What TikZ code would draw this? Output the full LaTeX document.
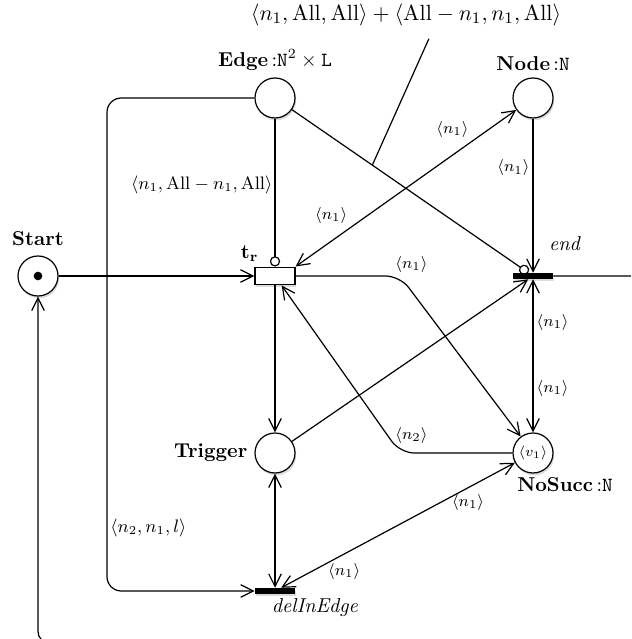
\documentclass[tikz,border=0pt]{standalone}
\usepackage{amsmath}
\usepackage{amssymb}
\usetikzlibrary{positioning,arrows.meta,petri,shadows,calc}
\tikzset{
  pnshadow/.style={drop shadow={shadow xshift=0.6pt, shadow yshift=-1.2pt, opacity=0.28}},
  pnplace/.style={circle, draw, semithick, fill=white, minimum size=0.7cm,
                  inner sep=0pt, pnshadow},
  pntrans/.style={rectangle, draw, semithick, fill=white, minimum width=0.7cm,
                  minimum height=0.31cm, inner sep=0pt, pnshadow},
  pnbar/.style={rectangle, fill=black, minimum width=0.7cm, minimum height=0.1cm,
                inner sep=0pt, pnshadow},
  pnarc/.style={-{Straight Barb[length=2.2mm,width=2.2mm]}, semithick},
  pnboth/.style={{Straight Barb[length=2.2mm,width=2.2mm]}-{Straight Barb[length=2.2mm,width=2.2mm]}, semithick},
  pninhib/.style={-{Circle[open,length=1.8mm,width=1.8mm]}, semithick},
  pnline/.style={semithick},
  pnlbl/.style={font=\footnotesize, inner sep=1.5pt},
  pnbig/.style={font=\small, inner sep=1pt},
}
\newcommand{\ColS}{38}
\newcommand{\ColA}{275}
\newcommand{\ColK}{400}
\newcommand{\ColB}{533}
\newcommand{\RowA}{98}
\newcommand{\RowB}{276}
\newcommand{\RowC}{453}
\newcommand{\RowD}{591}

\begin{document}
\begin{tikzpicture}[x=0.0175cm, y=-0.0175cm]
  \useasboundingbox (0,0) rectangle (631,639);
  \clip (0,0) rectangle (631,639);

  % places
  \node[pnplace, tokens=1, label={[label distance=1.5pt]above:\textbf{Start}}] (start) at (\ColS,\RowB) {};
  \node[pnplace, label=above:{\textbf{Edge}\,:$\mathtt{N}^2\times\mathtt{L}$}] (edge) at (\ColA,\RowA) {};
  \node[pnplace, label=above:{\textbf{Node}\,:$\mathtt{N}$}] (node) at (\ColB,\RowA) {};
  \node[pnplace, label=left:\textbf{Trigger}] (trigger) at (\ColA,\RowC) {};
  \node[pnplace, font=\scriptsize, label={[xshift=5.6mm,yshift=0.5mm]below:{\normalsize\textbf{NoSucc}\,:$\mathtt{N}$}}] (nosucc) at (\ColB,\RowC) {$\langle v_1\rangle$};

  % transitions
  \node[pntrans, label={[yshift=-0.3mm]above left:$\mathbf{t_r}$}] (tr) at (\ColA,\RowB) {};
  \node[pnbar, label={[xshift=5.6mm,yshift=2.6mm]above:\textit{end}}] (end) at (\ColB,\RowB) {};
  \node[pnbar, label={[xshift=7mm,yshift=0.5mm]below:\textit{delInEdge}}] (delinedge) at (\ColA,\RowD) {};

  % bend points
  \coordinate (k1) at (\ColK,\RowB);
  \coordinate (k2) at (\ColK,\RowC);
  \coordinate (k3) at (107,\RowA);
  \coordinate (k4) at (107,\RowD);
  \coordinate (loopA) at (680,\RowB);
  \coordinate (loopB) at (680,643);
  \coordinate (loopC) at (\ColS,643);

  % arcs
  \draw[pnarc] (start) -- (tr);
  \draw[pninhib] (edge) -- node[pnbig, pos=0.45, left]{$\langle n_1,\mathrm{All}-n_1,\mathrm{All}\rangle$} (tr);
  \draw[pninhib] (edge) -- coordinate[pos=0.34] (pinpt) (end);
  \node[font=\fontsize{11}{13}\selectfont] (sumlbl) at (406,15) {$\langle n_1,\mathrm{All},\mathrm{All}\rangle+\langle\mathrm{All}-n_1,n_1,\mathrm{All}\rangle$};
  \draw[pnline] (pinpt) -- ([xshift=4mm,yshift=-1mm]sumlbl.south);
  \draw[pnboth] (node) -- node[pnlbl, pos=0.2, above left]{$\langle n_1\rangle$}
                          node[pnlbl, pos=0.75, above left]{$\langle n_1\rangle$} (tr.north east);
  \draw[pnarc] (node) -- node[pnlbl, pos=0.32, left]{$\langle n_1\rangle$} (end);
  \draw[pnarc, rounded corners=2.5mm] (tr) -- (k1) node[pnlbl, above, xshift=2mm]{$\langle n_1\rangle$} -- (nosucc);
  \draw[pnarc, rounded corners=2.5mm] (nosucc) -- (k2) node[pnlbl, above, xshift=2mm, yshift=1mm]{$\langle n_2\rangle$} -- (tr);
  \draw[pnboth] (end) -- node[pnlbl, pos=0.28, right]{$\langle n_1\rangle$}
                         node[pnlbl, pos=0.71, right]{$\langle n_1\rangle$} (nosucc);
  \draw[pnarc] (trigger) -- (end);
  \draw[pnarc] (tr) -- (trigger);
  \draw[pnboth] (trigger) -- (delinedge);
  \draw[pnboth] (nosucc) -- node[pnlbl, pos=0.2, below, yshift=-0.5mm]{$\langle n_1\rangle$}
                            node[pnlbl, pos=0.73, below, yshift=-1mm]{$\langle n_1\rangle$} (delinedge);
  \draw[pnarc, rounded corners=2.5mm] (edge) -- (k3) -- (k4) -- (delinedge);
  \node[pnbig, anchor=west] (lblb) at (108,528) {$\langle n_2,n_1,l\rangle$};
  \draw[pnarc, rounded corners=2mm] (end) -- (loopA) -- (loopB) -- (loopC) -- (start);
\end{tikzpicture}
\end{document}
